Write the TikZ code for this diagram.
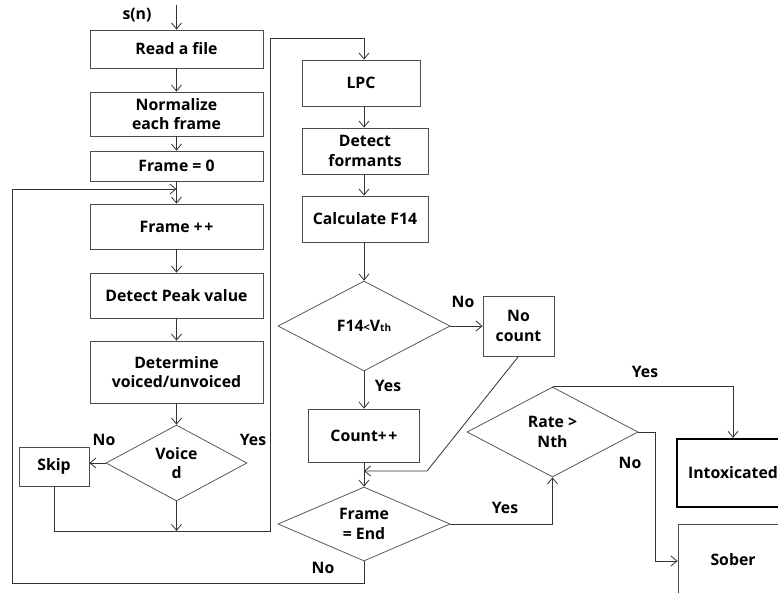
\documentclass[tikz,border=0pt]{standalone}
\usepackage{fontspec}
\setmainfont{Open Sans}
\usetikzlibrary{shapes.geometric,arrows.meta,calc}
\begin{document}
\begin{tikzpicture}[x=1pt,y=-1pt,
  font=\fontsize{15.8}{19.5}\selectfont\bfseries,
  box/.style={draw=black!70, line width=0.8pt, rectangle, align=center, inner sep=0pt},
  dia/.style={draw=black!65, line width=0.8pt, diamond, align=center, inner sep=0pt},
  arr/.style={draw=black!80, line width=0.8pt, -{Straight Barb[length=6pt,width=10pt]}},
  ln/.style={draw=black!80, line width=0.8pt},
  lbl/.style={inner sep=0pt}]
\useasboundingbox (0,0) rectangle (778,592);
\clip (0,0) rectangle (778,592);
% left column
\node[box, minimum width=173pt, minimum height=38pt] (read) at (176.5,49) {Read a file};
\node[box, minimum width=173pt, minimum height=44pt] (norm) at (176.5,114) {Normalize\\each frame};
\node[box, minimum width=173pt, minimum height=30pt] (f0) at (176.5,166) {Frame = 0};
\node[box, minimum width=173pt, minimum height=45pt] (fpp) at (176.5,226.5) {Frame +\kern1.5pt+};
\node[box, minimum width=173pt, minimum height=45pt] (peak) at (176.5,295.5) {Detect Peak value};
\node[box, minimum width=173pt, minimum height=62pt] (det) at (176.5,372) {Determine\\voiced/unvoiced};
\node[dia, minimum width=141pt, minimum height=76pt, aspect=1.85] (voiced) at (176.5,463) {Voice\\d};
\node[box, minimum width=70pt, minimum height=39pt] (skip) at (54,466.5) {Skip};
% right column
\node[box, minimum width=118pt, minimum height=46pt] (lpc) at (361,83) {LPC};
\node[box, minimum width=126pt, minimum height=46pt] (form) at (365,151) {Detect\\formants};
\node[box, minimum width=126pt, minimum height=46pt] (calc) at (365,219) {Calculate F14};
\node[dia, minimum width=172pt, minimum height=90pt, aspect=1.9] (f14) at (364,326) {F14{\fontsize{11}{13}\selectfont<}V{\fontsize{10}{12}\selectfont th}};
\node[box, minimum width=71pt, minimum height=60pt] (noc) at (518.5,326) {No\\count};
\node[box, minimum width=111pt, minimum height=53pt] (count) at (364,435.5) {Count+\kern1.5pt+};
\node[dia, minimum width=172pt, minimum height=74pt, aspect=2.3] (fe) at (364,524) {Frame\\= End};
\node[dia, minimum width=171pt, minimum height=90pt, aspect=1.9] (rate) at (552.5,432) {Rate >\\Nth};
\node[box, draw=black, line width=2.2pt, minimum width=112pt, minimum height=68pt] (intox) at (733,473) {Intoxicated};
\node[box, minimum width=110pt, minimum height=74pt] (sober) at (733,561) {\raisebox{3pt}{Sober}};
% coordinates
\coordinate (sn) at (176.5,5);
\coordinate (jt) at (176.5,189);
\coordinate (tl) at (12,189);
\coordinate (bl) at (12,583);
\coordinate (br) at (364,583);
\coordinate (vj) at (176.5,531);
\coordinate (rb) at (270,531);
\coordinate (rt) at (270,38);
\coordinate (lt) at (364,38);
\coordinate (nk) at (427,471);
\coordinate (nj) at (364,471);
\coordinate (rs) at (655,432);
% connectors
\draw[arr] (sn) -- (read);
\draw[arr] (read) -- (norm);
\draw[arr] (norm) -- (f0);
\draw[arr] (f0) -- (fpp);
\draw[arr] (fpp) -- (peak);
\draw[arr] (peak) -- (det);
\draw[arr] (det) -- (voiced);
\draw[arr] (voiced.west) -- (voiced.west -| skip.east);
\draw[arr] (voiced) -- (vj);
\draw[arr] (skip.south) -- (skip.south |- rb) -- (rb) -- (rt) -- (lt) -- (lt |- lpc.north);
\draw[arr] (lt |- lpc.south) -- (lt |- form.north);
\draw[arr] (lt |- form.south) -- (lt |- calc.north);
\draw[arr] (lt |- calc.south) -- (f14.north);
\draw[arr] (f14) -- (noc);
\draw[arr] (f14) -- (count);
\draw[arr] (count) -- (fe);
\draw[arr] (noc.south) -- (nk) -- (nj);
\draw[arr] (fe.east) -| (rate.south);
\draw[arr] (rate.north) -| (intox.north);
\draw[arr] (rate.east) -- (rs) |- (sober.west);
\draw[arr] (fe.south) -- (br) -- (bl) -- (tl) -- (jt);
% labels
\node[lbl] at (137,15) {s(n)};
\node[lbl] at (104,440) {No};
\node[lbl] at (253,440) {Yes};
\node[lbl] at (463,302) {No};
\node[lbl] at (388,386) {Yes};
\node[lbl] at (505,508) {Yes};
\node[lbl] at (323,568) {No};
\node[lbl] at (645,372) {Yes};
\node[lbl] at (630,463) {No};
\end{tikzpicture}
\end{document}
